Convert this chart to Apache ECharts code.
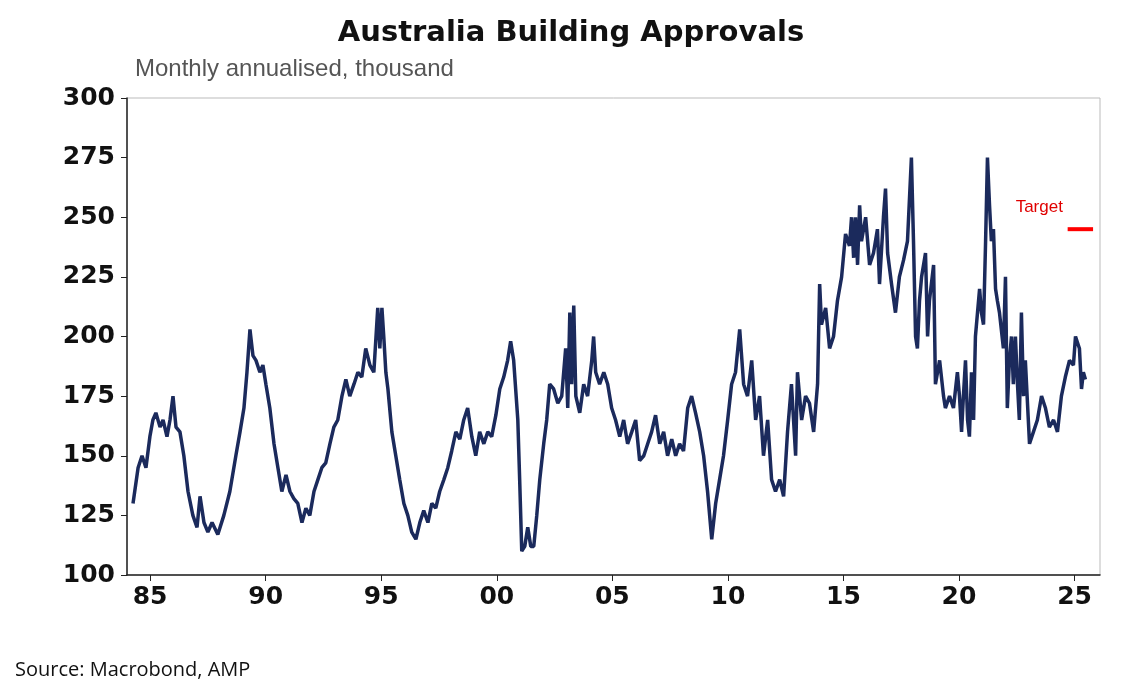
<!DOCTYPE html>
<html lang="en">
<head>
    <meta charset="UTF-8">
    <title>Australia Building Approvals</title>
    <script src="https://cdn.jsdelivr.net/npm/echarts@6/dist/echarts.min.js"></script>
    <style>
        html, body { margin: 0; padding: 0; background: #fff; }
        #chart { width: 1142px; height: 699px; }
    </style>
</head>
<body>
<div id="chart"></div>
<script>
// decimal years and values (thousand, monthly annualised)
var years = [1984.26,1984.48,1984.65,1984.82,1984.99,1985.12,1985.25,1985.43,1985.56,1985.73,1985.86,1985.99,
1986.12,1986.29,1986.46,1986.64,1986.85,1987.03,1987.16,1987.33,1987.50,1987.68,1987.93,1988.19,1988.45,1988.71,1988.89,
1989.06,1989.19,1989.32,1989.45,1989.58,1989.75,1989.88,1990.01,1990.18,1990.36,1990.53,1990.70,1990.88,
1991.05,1991.22,1991.39,1991.57,1991.74,1991.91,1992.09,1992.26,1992.43,1992.60,1992.78,1992.95,
1993.12,1993.30,1993.47,1993.64,1993.82,1993.99,1994.16,1994.33,1994.51,1994.68,1994.85,1994.94,
1995.03,1995.11,1995.20,1995.29,1995.46,1995.63,1995.80,1995.98,1996.15,1996.32,1996.50,1996.67,1996.84,
1997.02,1997.19,1997.36,1997.53,1997.71,1997.88,1998.05,1998.23,1998.40,1998.57,1998.74,1998.92,
1999.09,1999.26,1999.44,1999.61,1999.78,1999.96,2000.13,2000.30,2000.47,2000.60,2000.73,2000.91,2000.99,
2001.08,2001.21,2001.34,2001.47,2001.60,2001.73,2001.86,2002.03,2002.16,2002.29,2002.46,2002.64,2002.81,2002.98,
2003.07,2003.16,2003.24,2003.33,2003.42,2003.59,2003.76,2003.93,2004.11,2004.19,2004.28,2004.45,2004.63,2004.80,2004.97,
2005.14,2005.32,2005.49,2005.66,2005.84,2006.01,2006.18,2006.36,2006.53,2006.70,2006.87,
2007.05,2007.22,2007.39,2007.57,2007.74,2007.91,2008.08,2008.26,2008.43,2008.60,2008.78,2008.95,
2009.12,2009.30,2009.47,2009.64,2009.81,2009.99,2010.16,2010.33,2010.51,2010.68,2010.85,
2011.03,2011.20,2011.37,2011.54,2011.72,2011.89,2012.06,2012.24,2012.41,2012.58,2012.75,2012.93,
2013.01,2013.19,2013.36,2013.53,2013.71,2013.88,2013.97,2014.05,2014.23,2014.40,2014.57,2014.74,2014.92,
2015.09,2015.26,2015.35,2015.44,2015.52,2015.61,2015.70,2015.78,2015.96,2016.13,2016.30,2016.47,2016.56,2016.73,2016.82,2016.91,
2017.08,2017.25,2017.42,2017.60,2017.77,2017.94,2018.03,2018.12,2018.20,2018.29,2018.38,2018.55,2018.64,2018.72,2018.90,2018.98,
2019.16,2019.33,2019.41,2019.59,2019.76,2019.93,2020.02,2020.11,2020.19,2020.28,2020.37,2020.45,2020.54,2020.63,2020.71,2020.80,2020.89,2020.97,
2021.06,2021.15,2021.23,2021.32,2021.40,2021.49,2021.58,2021.66,2021.75,2021.92,2022.01,2022.09,2022.18,2022.27,2022.35,2022.44,2022.53,2022.61,2022.70,2022.79,2022.87,
2023.05,2023.22,2023.39,2023.57,2023.74,2023.91,2024.09,2024.26,2024.43,2024.60,2024.78,2024.95,2025.04,2025.12,2025.21,2025.30,2025.38,2025.47];
var values = [130,145,150,145,158,165,168,162,165,158,165,175,
162,160,150,135,125,120,133,122,118,122,117,125,135,150,160,
170,185,203,192,190,185,188,180,170,155,145,135,142,
135,132,130,122,128,125,135,140,145,147,155,162,
165,175,182,175,180,185,183,195,188,185,212,195,
212,200,185,178,160,150,140,130,125,118,115,122,127,
122,130,128,135,140,145,152,160,157,165,170,158,
150,160,155,160,158,167,178,183,190,198,190,165,140,
110,112,120,112,112,125,140,155,165,180,178,172,175,195,
170,210,180,213,175,168,180,175,190,200,185,180,185,180,170,
165,158,165,155,160,165,148,150,155,160,167,
155,160,150,157,150,155,152,170,175,168,160,150,
135,115,130,140,150,165,180,185,203,180,175,
190,165,175,150,165,140,135,140,133,160,180,150,
185,165,175,172,160,180,222,205,212,195,200,215,225,
243,238,250,233,250,230,255,240,250,230,235,245,222,250,262,235,
222,210,225,232,240,275,240,200,195,215,225,235,200,215,230,180,
190,175,170,175,170,185,175,160,175,190,165,158,185,165,200,210,220,210,
205,240,275,255,240,245,220,215,210,195,225,170,190,200,180,200,180,165,210,175,190,
155,160,165,175,170,162,165,160,175,183,190,188,200,200,195,178,185,182];
var targetYears = [2024.7, 2025.8];
var targetValue = 245;
var xTicks = [1985,1990,1995,2000,2005,2010,2015,2020,2025];

var chart = echarts.init(document.getElementById('chart'));
var lineData = years.map(function (y, i) { return [y, values[i]]; });

chart.setOption({
    backgroundColor: '#fff',
    animation: false,
    title: [{
        text: 'Australia Building Approvals',
        left: 'center',
        top: 14,
        textStyle: { fontFamily: 'DejaVu Sans', fontWeight: 'bold', fontSize: 29, color: '#111' }
    }, {
        text: 'Monthly annualised, thousand',
        left: 130,
        top: 52,
        textStyle: { fontFamily: 'Liberation Sans', fontWeight: 'normal', fontSize: 24, color: '#555' }
    }, {
        text: 'Source: Macrobond, AMP',
        left: 10,
        top: 655,
        textStyle: { fontFamily: 'Open Sans', fontWeight: 'normal', fontSize: 20, color: '#111' }
    }],
    grid: { left: 127, right: 42, top: 98, bottom: 124, show: true, borderColor: '#bbb', borderWidth: 1 },
    xAxis: {
        type: 'value', min: 1984, max: 2026.1,
        splitLine: { show: false },
        axisLine: { lineStyle: { color: '#222', width: 1.5 } },
        axisTick: { customValues: xTicks, length: 6, lineStyle: { color: '#222' } },
        axisLabel: {
            customValues: xTicks,
            formatter: function (v) { var s = String(Math.round(v) % 100); return s.length < 2 ? '0' + s : s; },
            fontFamily: 'DejaVu Sans', fontWeight: 'bold', fontSize: 25, color: '#111', margin: 10
        }
    },
    yAxis: {
        type: 'value', min: 100, max: 300, interval: 25,
        splitLine: { show: false },
        axisLine: { show: true, lineStyle: { color: '#222', width: 1.5 } },
        axisTick: { show: true, length: 6, lineStyle: { color: '#222' } },
        axisLabel: { fontFamily: 'DejaVu Sans', fontWeight: 'bold', fontSize: 25, color: '#111', margin: 12 }
    },
    series: [{
        type: 'line',
        data: lineData,
        showSymbol: false,
        lineStyle: { color: '#1b2a5c', width: 3.5 },
        z: 3
    }, {
        type: 'line',
        data: [
            { value: [targetYears[0], targetValue], label: { show: true, formatter: 'Target', position: [-52, -30], color: '#e00000', fontFamily: 'Liberation Sans', fontSize: 17 } },
            [targetYears[1], targetValue]
        ],
        showSymbol: true,
        symbolSize: 0,
        lineStyle: { color: '#ff0000', width: 4 },
        z: 4
    }]
});
</script>
</body>
</html>
